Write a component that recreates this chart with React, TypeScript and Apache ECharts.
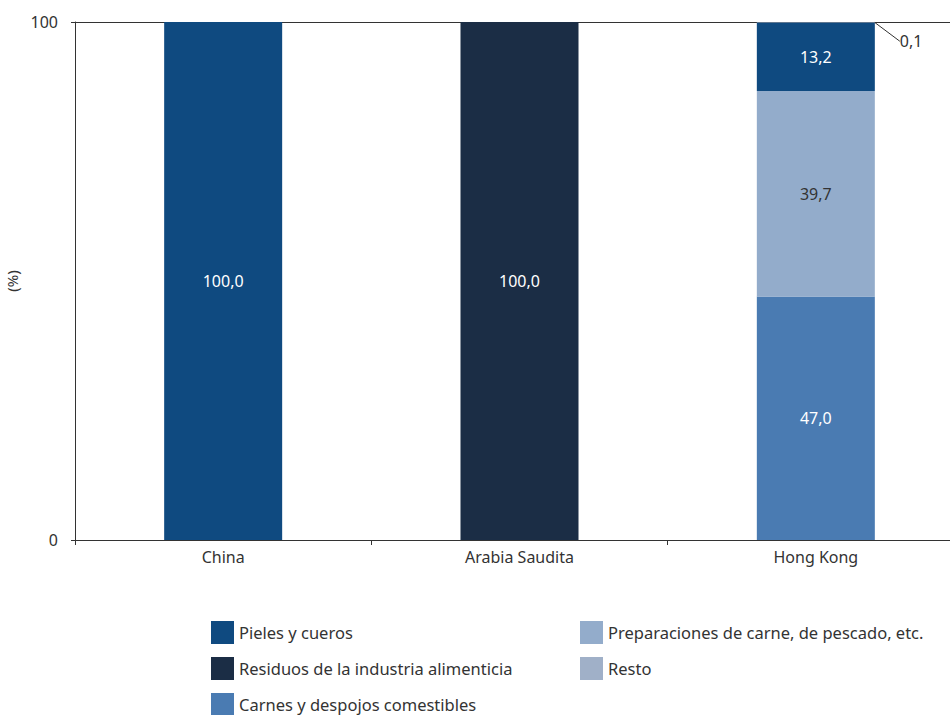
import React, { useEffect, useRef } from "react";
import * as echarts from "echarts";

const categories = ["China", "Arabia Saudita", "Hong Kong"];
const carnes = [0, 0, 47.0];
const preparaciones = [0, 0, 39.7];
const pieles = [100.0, 0, 13.2];
const residuos = [0, 100.0, 0];
const resto = [0, 0, 0.1];
const yTicks = [0, 100];

const FONT = "'Noto Sans', sans-serif";
const fmt = (v: number) => v.toFixed(1).replace(".", ",");

export default function App() {
  const ref = useRef<HTMLDivElement>(null);
  useEffect(() => {
    const chart = echarts.init(ref.current!, null, { renderer: "svg" });
    const inLabel = {
      show: true,
      color: "#ffffff",
      fontSize: 16,
      fontFamily: FONT,
      formatter: (p: any) => (p.value ? fmt(p.value) : ""),
    };
    const mk = (name: string, data: number[], color: string, labelColor = "#ffffff") => ({
      name,
      type: "bar",
      stack: "t",
      barWidth: 118,
      data,
      itemStyle: { color },
      label: { ...inLabel, color: labelColor },
    });
    const legendBase = {
      orient: "vertical",
      top: 621,
      height: 100,
      padding: 0,
      itemWidth: 23,
      itemHeight: 23,
      itemGap: 13,
      icon: "rect",
      textStyle: { fontSize: 16.5, color: "#333", fontFamily: FONT },
    };
    chart.setOption({
      animation: false,
      textStyle: { fontFamily: FONT },
      grid: { left: 75, width: 889, top: 22, bottom: 175, outerBoundsMode: "none", containLabel: false },
      legend: [
        {
          ...legendBase,
          left: 211,
          data: ["Pieles y cueros", "Residuos de la industria alimenticia", "Carnes y despojos comestibles"],
        },
        {
          ...legendBase,
          left: 580,
          data: ["Preparaciones de carne, de pescado, etc.", "Resto"],
        },
      ],
      xAxis: {
        type: "category",
        data: categories,
        axisLine: { lineStyle: { color: "#333" } },
        axisTick: { show: true, length: 5, lineStyle: { color: "#333" } },
        axisLabel: { color: "#333", fontSize: 16, margin: 9, fontFamily: FONT },
      },
      yAxis: {
        type: "value",
        min: yTicks[0],
        max: yTicks[1],
        interval: 100,
        name: "(%)",
        nameLocation: "middle",
        nameGap: 47,
        nameTextStyle: { color: "#333", fontSize: 15, fontFamily: FONT },
        axisLine: { show: true, lineStyle: { color: "#333" } },
        axisTick: { show: true, length: 4, lineStyle: { color: "#333" } },
        axisLabel: { color: "#333", fontSize: 16, margin: 17, fontFamily: FONT },
        splitLine: { show: true, lineStyle: { color: "#333", width: 1 } },
      },
      series: [
        mk("Carnes y despojos comestibles", carnes, "#4A7BB2"),
        mk("Preparaciones de carne, de pescado, etc.", preparaciones, "#93ACCB", "#333"),
        mk("Pieles y cueros", pieles, "#0F4A80"),
        mk("Residuos de la industria alimenticia", residuos, "#1B2D45"),
        {
          name: "Resto",
          type: "bar",
          stack: "t",
          barWidth: 118,
          data: resto.map((v) =>
            v
              ? { value: v, label: { show: true }, labelLine: { show: true } }
              : { value: v, label: { show: false }, labelLine: { show: false } }
          ),
          itemStyle: { color: "#A0B0C8" },
          label: {
            show: false,
            position: "right",
            color: "#333",
            fontSize: 16,
            fontFamily: FONT,
            formatter: (p: any) => (p.value ? fmt(p.value) : ""),
          },
          labelLayout: { dx: 20, dy: 19 },
          labelLine: { show: false, lineStyle: { color: "#333", width: 1 } },
        },
      ],
    });
    return () => chart.dispose();
  }, []);
  return <div ref={ref} style={{ width: 950, height: 715, position: "absolute", left: 0, top: 0 }} />;
}
